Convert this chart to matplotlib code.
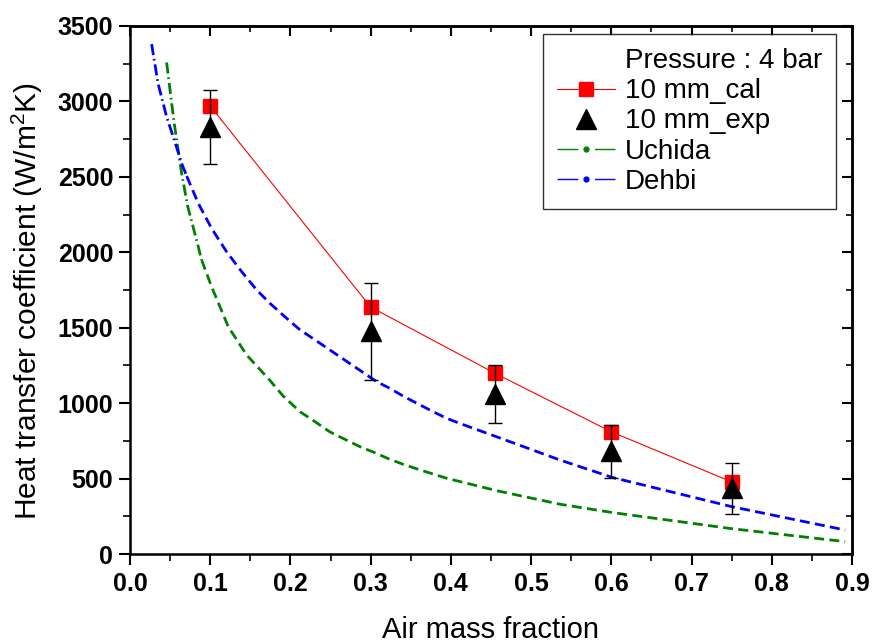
import matplotlib
matplotlib.use("Agg")
import matplotlib.pyplot as plt
from matplotlib.lines import Line2D
from matplotlib.ticker import MultipleLocator
import numpy as np

plt.rcParams['font.family'] = ['Liberation Sans', 'DejaVu Sans']
plt.rcParams['mathtext.fontset'] = 'custom'
plt.rcParams['mathtext.rm'] = 'Liberation Sans'

# ---- data ----
x_pts = [0.1, 0.3, 0.455, 0.6, 0.75]
cal = [2970, 1637, 1198, 810, 478]
exp_vals = [2830, 1475, 1060, 680, 435]
exp_err = [244, 320, 190, 175, 167]

uchida_x = [0.0457, 0.052, 0.0553, 0.0644, 0.072, 0.083, 0.0894, 0.1018, 0.1226,
            0.1455, 0.1746, 0.191, 0.212, 0.2307, 0.249, 0.268, 0.2868, 0.3055,
            0.322, 0.3408, 0.3595, 0.378, 0.3948, 0.457, 0.536, 0.601, 0.75, 0.8915]
uchida_y = [3258, 2987, 2850, 2523, 2303, 2081, 1948, 1771, 1506,
            1319, 1150, 1047, 943, 877, 810, 760, 711, 671,
            632, 594, 561, 530, 502, 420, 330, 275, 168, 82]

dehbi_x = [0.027, 0.035, 0.0457, 0.0553, 0.0652, 0.0707, 0.0852, 0.1018, 0.1205,
           0.1393, 0.158, 0.1746, 0.1954, 0.211, 0.3076, 0.324, 0.341, 0.3595,
           0.378, 0.395, 0.409, 0.457, 0.536, 0.601, 0.75, 0.8915]
dehbi_y = [3380, 3119, 2898, 2743, 2578, 2505, 2324, 2158, 2003,
           1871, 1750, 1661, 1562, 1490, 1142, 1098, 1045, 994,
           943, 899, 870, 777, 623, 508, 314, 159]

legend_title = "Pressure : 4 bar"
labels = ["10 mm_cal", "10 mm_exp", "Uchida", "Dehbi"]

fig = plt.figure(figsize=(8.74, 6.43), dpi=100)
ax = fig.add_axes([0.1487, 0.1384, 0.8261, 0.8212])

green = '#008000'
blue = '#0000ff'
LW = 2.0
dash = (0, (3.6, 1.9))
dashdot = (0, (4.0, 1.4, 0.6, 1.4))

# Uchida: dash-dot in the steep part, dashes afterwards
ku = 6
ax.plot(uchida_x[:ku + 1], uchida_y[:ku + 1], color=green, lw=LW, ls=dashdot)
ax.plot(uchida_x[ku:], uchida_y[ku:], color=green, lw=LW, ls=dash)
kd = 5
ax.plot(dehbi_x[:kd + 1], dehbi_y[:kd + 1], color=blue, lw=LW, ls=dashdot)
ax.plot(dehbi_x[kd:], dehbi_y[kd:], color=blue, lw=LW, ls=dash)

ax.plot(x_pts, cal, color='red', lw=0.8, marker='s', ms=10, mfc='red', mec='red', zorder=3)
ax.errorbar(x_pts, exp_vals, yerr=exp_err, fmt='^', color='black', ms=14,
            ecolor='black', elinewidth=1.0, capsize=5, capthick=1.0, zorder=4)

ax.set_xlim(0.0, 0.9)
ax.set_ylim(0, 3500)
ax.set_xticks(np.arange(0, 0.91, 0.1))
ax.set_xticklabels([f"{v:.1f}" for v in np.arange(0, 0.91, 0.1)])
ax.xaxis.set_minor_locator(MultipleLocator(0.05))
ax.yaxis.set_major_locator(MultipleLocator(500))
ax.yaxis.set_minor_locator(MultipleLocator(250))

for s in ax.spines.values():
    s.set_linewidth(1.8)

ax.tick_params(axis='both', which='major', direction='out', length=8, width=1.5,
               labelsize=18)
ax.tick_params(axis='both', which='minor', direction='out', length=5, width=1.2)
ax.tick_params(axis='x', pad=5)
ax.tick_params(axis='y', pad=4)
for lab in ax.get_xticklabels() + ax.get_yticklabels():
    lab.set_fontweight('bold')

# top / right inward ticks
axt = ax.secondary_xaxis('top')
axt.xaxis.set_major_locator(MultipleLocator(0.1))
axt.xaxis.set_minor_locator(MultipleLocator(0.05))
axt.tick_params(which='major', direction='in', length=7, width=1.5, labeltop=False)
axt.tick_params(which='minor', direction='in', length=4, width=1.2)
axr = ax.secondary_yaxis('right')
axr.yaxis.set_major_locator(MultipleLocator(500))
axr.yaxis.set_minor_locator(MultipleLocator(250))
axr.tick_params(which='major', direction='in', length=7, width=1.5, labelright=False)
axr.tick_params(which='minor', direction='in', length=4, width=1.2)
for s in list(axt.spines.values()) + list(axr.spines.values()):
    s.set_linewidth(1.8)

ax.set_xlabel("Air mass fraction", fontsize=21, labelpad=14)
ax.set_ylabel(r"Heat transfer coefficient (W/m$^{\mathregular{2}}$K)", fontsize=21.5)
ax.yaxis.set_label_coords(-0.118, 0.48)

handles = [
    Line2D([], [], lw=0, alpha=0),
    Line2D([], [], color='red', lw=0.8, marker='s', ms=10, mfc='red', mec='red'),
    Line2D([], [], color='black', lw=0, marker='^', ms=14),
    Line2D([], [], color=green, lw=1.0, ls=(0, (15, 12)), marker='o', ms=3.5,
           mfc=green, mec=green),
    Line2D([], [], color=blue, lw=1.0, ls=(0, (15, 12)), marker='o', ms=3.5,
           mfc=blue, mec=blue),
]
leg = ax.legend(handles, [legend_title] + labels, loc='upper right',
                bbox_to_anchor=(0.986, 0.995), fontsize=20,
                frameon=True, fancybox=False, edgecolor='black', handlelength=2.1,
                labelspacing=0.15, borderpad=0.5, handletextpad=0.35,
                borderaxespad=0.2)
leg.get_frame().set_linewidth(1.0)

fig.savefig("out.png", dpi=100)
